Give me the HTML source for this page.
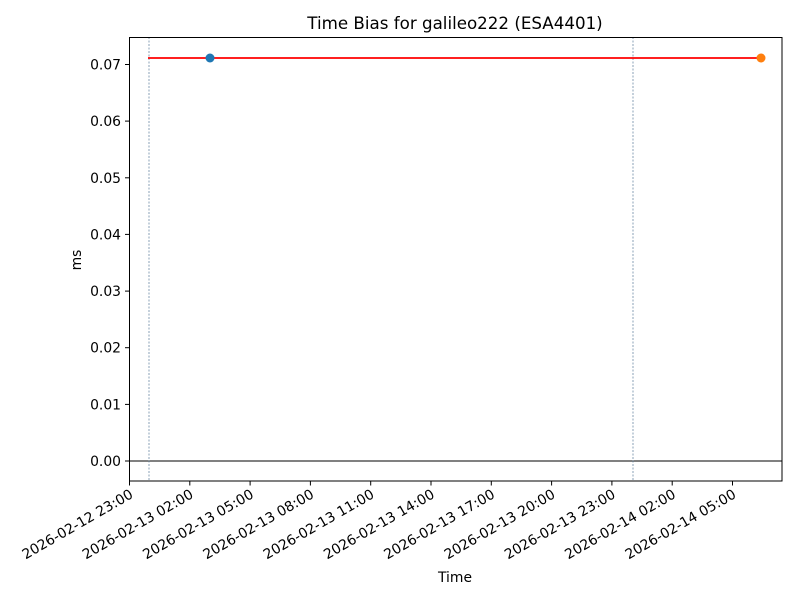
<!DOCTYPE html><html><head><style>body{margin:0;background:#fff}svg{display:block;font-family:"DejaVu Sans","Liberation Sans",sans-serif}</style></head><body>
<svg width="800" height="600" xmlns="http://www.w3.org/2000/svg">
<rect width="800" height="600" fill="#fff"/>
<text x="455" y="29" font-size="16.7" text-anchor="middle">Time Bias for galileo222 (ESA4401)</text>
<line x1="129.5" y1="461" x2="782" y2="461" stroke="#000" stroke-width="1"/>
<line x1="149" y1="37" x2="149" y2="481" stroke="#5a7a99" stroke-width="0.7" stroke-dasharray="2,1.5"/>
<line x1="633" y1="37" x2="633" y2="481" stroke="#5a7a99" stroke-width="0.7" stroke-dasharray="2,1.5"/>
<line x1="148" y1="58" x2="762" y2="58" stroke="#f00" stroke-width="1.8"/>
<circle cx="210" cy="58" r="4.5" fill="#1f77b4"/>
<circle cx="761" cy="58" r="4.5" fill="#ff7f0e"/>
<rect x="129.5" y="37.5" width="652.5" height="443.5" fill="none" stroke="#000" stroke-width="1"/>
<g font-size="13.9" text-anchor="end">
<g stroke="#000"><line x1="125" y1="461" x2="129.5" y2="461"/><line x1="125" y1="404.4" x2="129.5" y2="404.4"/><line x1="125" y1="347.7" x2="129.5" y2="347.7"/><line x1="125" y1="291.1" x2="129.5" y2="291.1"/><line x1="125" y1="234.4" x2="129.5" y2="234.4"/><line x1="125" y1="177.8" x2="129.5" y2="177.8"/><line x1="125" y1="121.1" x2="129.5" y2="121.1"/><line x1="125" y1="64.5" x2="129.5" y2="64.5"/></g>
<text x="121" y="466">0.00</text><text x="121" y="409.4">0.01</text><text x="121" y="352.7">0.02</text><text x="121" y="296.1">0.03</text><text x="121" y="239.4">0.04</text><text x="121" y="182.8">0.05</text><text x="121" y="126.1">0.06</text><text x="121" y="69.5">0.07</text>
</g>
<g stroke="#000">
<line x1="129.5" y1="481" x2="129.5" y2="485.5"/><line x1="189.8" y1="481" x2="189.8" y2="485.5"/><line x1="250.1" y1="481" x2="250.1" y2="485.5"/><line x1="310.4" y1="481" x2="310.4" y2="485.5"/><line x1="370.7" y1="481" x2="370.7" y2="485.5"/><line x1="431" y1="481" x2="431" y2="485.5"/><line x1="491.3" y1="481" x2="491.3" y2="485.5"/><line x1="551.6" y1="481" x2="551.6" y2="485.5"/><line x1="611.9" y1="481" x2="611.9" y2="485.5"/><line x1="672.2" y1="481" x2="672.2" y2="485.5"/><line x1="732.5" y1="481" x2="732.5" y2="485.5"/>
</g>
<g font-size="13.9" text-anchor="end">
<text transform="translate(134,497) rotate(-30)">2026-02-12 23:00</text>
<text transform="translate(194.3,497) rotate(-30)">2026-02-13 02:00</text>
<text transform="translate(254.6,497) rotate(-30)">2026-02-13 05:00</text>
<text transform="translate(314.9,497) rotate(-30)">2026-02-13 08:00</text>
<text transform="translate(375.2,497) rotate(-30)">2026-02-13 11:00</text>
<text transform="translate(435.5,497) rotate(-30)">2026-02-13 14:00</text>
<text transform="translate(495.8,497) rotate(-30)">2026-02-13 17:00</text>
<text transform="translate(556.1,497) rotate(-30)">2026-02-13 20:00</text>
<text transform="translate(616.4,497) rotate(-30)">2026-02-13 23:00</text>
<text transform="translate(676.7,497) rotate(-30)">2026-02-14 02:00</text>
<text transform="translate(737,497) rotate(-30)">2026-02-14 05:00</text>
</g>
<text x="455" y="582" font-size="13.9" text-anchor="middle">Time</text>
<text transform="translate(81,260) rotate(-90)" font-size="13.9" text-anchor="middle">ms</text>
</svg>
</body></html>
